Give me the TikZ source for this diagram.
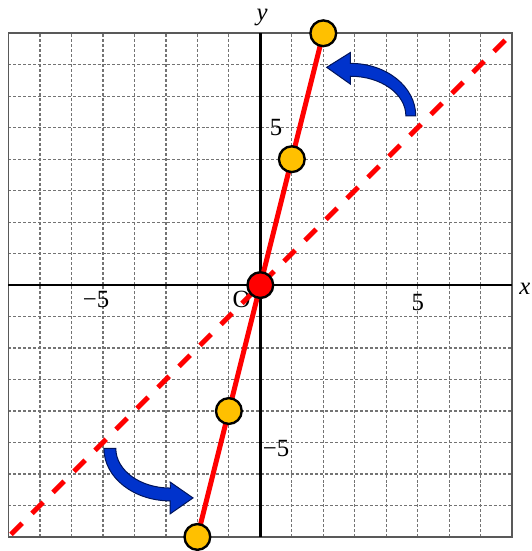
\documentclass[tikz,border=0pt]{standalone}
\usepackage{fontspec}
\setmainfont{Liberation Serif}
\definecolor{ptyellow}{RGB}{255,192,0}
\definecolor{arrowblue}{RGB}{0,51,204}
\definecolor{arrowline}{RGB}{0,20,90}
\pgfdeclarelayer{back}
\pgfdeclarelayer{lines}
\pgfsetlayers{back,lines,main}
\begin{document}
\begin{tikzpicture}[x=31.8pt,y=31.8pt,
  gridline/.style={black!55, line width=1.3pt, dash pattern=on 3pt off 2pt},
  frame/.style={black!65, line width=2pt},
  axis/.style={black, line width=2.4pt},
  redline/.style={red, line width=5pt},
  refline/.style={red, line width=5pt, dash pattern=on 16pt off 14pt},
  dot/.style={circle, draw=black, line width=2.4pt, fill=ptyellow, minimum size=26pt, inner sep=0pt},
  origindot/.style={dot, fill=red},
  ticklabel/.style={font=\fontsize{25}{25}\selectfont, inner sep=0pt},
  axislabel/.style={font=\fontsize{25}{25}\selectfont\itshape, inner sep=0pt},
  turn/.style={fill=arrowblue, draw=arrowline, line width=1pt, line join=miter}
]
\begin{pgfonlayer}{back}
\fill[white] (-8.27,-8.27) rectangle (8.616,9.057);
\useasboundingbox (-8.27,-8.27) rectangle (8.616,9.057);
\foreach \k in {-7,...,7} {
  \draw[gridline] (\k,-8) -- (\k,8);
  \draw[gridline] (-8,\k) -- (8,\k);
}
\draw[frame] (-8,-8) rectangle (8,8);
\coordinate (xa) at (-8,0);
\coordinate (xb) at (8,0);
\coordinate (ya) at (0,-8);
\coordinate (yb) at (0,8);
\draw[axis] (xa) -- (xb);
\draw[axis] (ya) -- (yb);
\node[axislabel] (xl) at (8.4,-0.13) {x};
\node[axislabel] (yl) at (0.06,8.5) {y};
\node[ticklabel] (ty5) at (0.5,5.0) {5};
\node[ticklabel] (tym5) at (0.5,-5.2) {−5};
\node[ticklabel] (tx5) at (5,-0.55) {5};
\node[ticklabel] (txm5) at (-5.22,-0.45) {−5};
\node[ticklabel] (orig) at (-0.6,-0.45) {O};
\coordinate (dl) at (-7.92,-7.92);
\coordinate (dr) at (7.85,7.85);
\draw[refline] (dl) -- (dr);
\end{pgfonlayer}

\node[dot] (p2) at (2,8) {};
\node[dot] (p1) at (1,4) {};
\node[origindot] (o) at (0,0) {};
\node[dot] (m1) at (-1,-4) {};
\node[dot] (m2) at (-2,-8) {};

\begin{pgfonlayer}{lines}
\draw[redline] (m2.center) -- (m1.center);
\draw[redline] (m1.center) -- (o.center);
\draw[redline] (o.center) -- (p1.center);
\draw[redline] (p1.center) -- (p2.center);
\end{pgfonlayer}

% upper curved arrow
\draw[turn] (2.107,6.918) -- (2.862,7.390) -- (2.862,7.044)
  arc[start angle=90, end angle=0, x radius=2.075, y radius=1.667]
  -- (4.623,5.377)
  arc[start angle=0, end angle=90, x radius=1.761, y radius=1.258]
  -- (2.862,6.384) -- cycle;
% lower curved arrow
\draw[turn] (-2.138,-6.761) -- (-2.862,-7.264) -- (-2.862,-6.855)
  arc[start angle=270, end angle=180, x radius=2.107, y radius=1.667]
  -- (-4.591,-5.189)
  arc[start angle=180, end angle=270, x radius=1.730, y radius=1.258]
  -- (-2.862,-6.258) -- cycle;
\end{tikzpicture}
\end{document}
